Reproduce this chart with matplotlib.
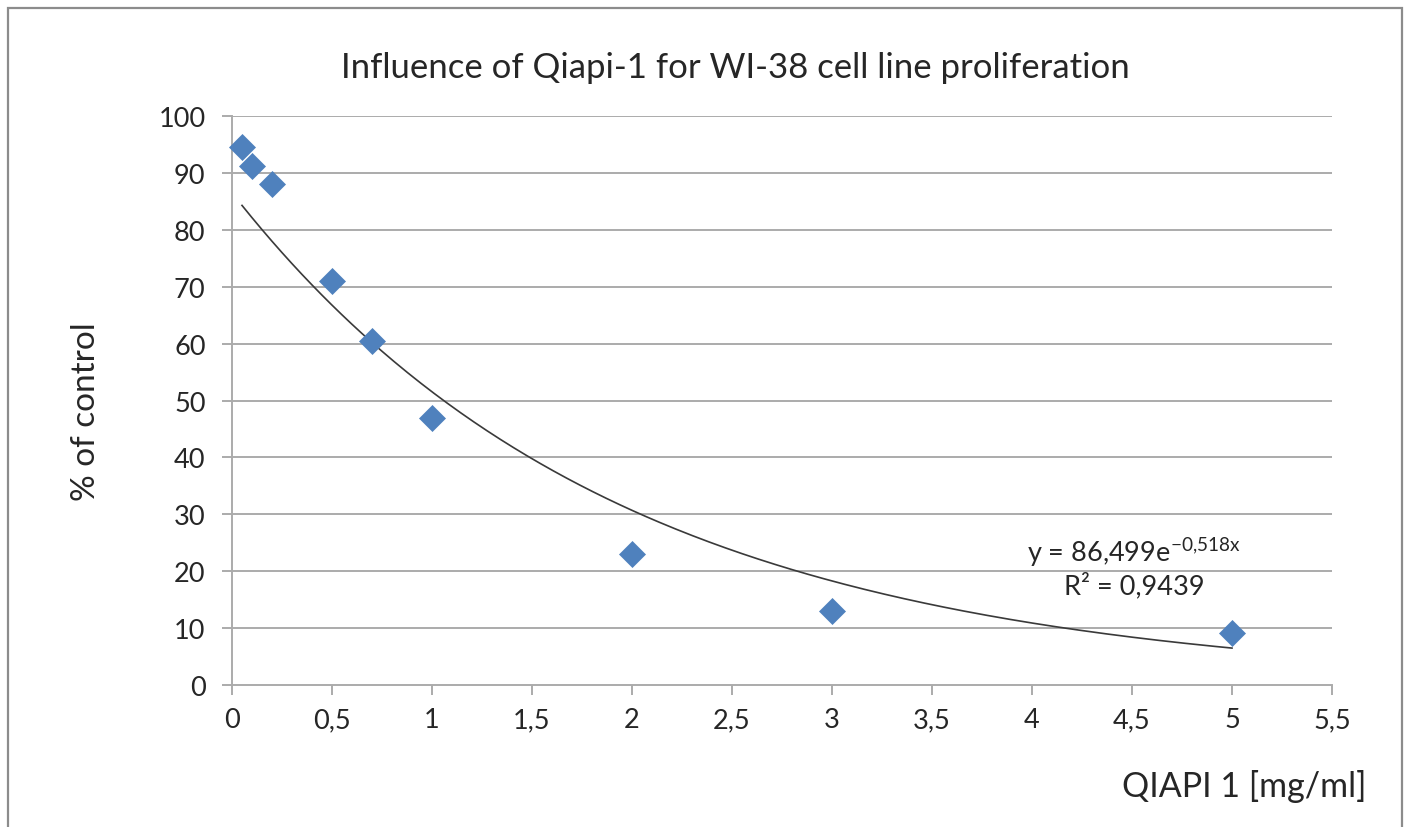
import matplotlib
matplotlib.use("Agg")
import matplotlib.pyplot as plt
import numpy as np
from matplotlib.patches import Rectangle

plt.rcParams['font.family'] = ['Lato', 'DejaVu Sans']
plt.rcParams['mathtext.fontset'] = 'custom'
plt.rcParams['mathtext.rm'] = 'Lato'

# data
conc = [0.05, 0.1, 0.2, 0.5, 0.7, 1, 2, 3, 5]
pct = [94.5, 91.2, 88.0, 71.0, 60.5, 47.0, 23.0, 13.0, 9.2]

# exponential trendline coefficients as printed on the chart
fit_a = 86.499
fit_b = -0.518
fit_label = 'y = 86,499e$^{\\mathregular{-0{,}518x}}$\nR² = 0,9439'

x_ticks = [0, 0.5, 1, 1.5, 2, 2.5, 3, 3.5, 4, 4.5, 5, 5.5]
x_ticklabels = ['0', '0,5', '1', '1,5', '2', '2,5', '3', '3,5', '4', '4,5', '5', '5,5']
y_ticks = [0, 10, 20, 30, 40, 50, 60, 70, 80, 90, 100]

grey = '#ABABAB'
blue = '#4F81BD'
txt = '#262626'

fig = plt.figure(figsize=(14.08, 8.28), dpi=100)
ax = fig.add_axes([232/1408, 1 - 686/828, 1100/1408, 569/828])

# outer chart border
fig.patches.append(Rectangle((8/1408, -0.01), 1394/1408, 1 - 9/828 + 0.01,
                             transform=fig.transFigure, fill=False,
                             edgecolor='#8C8C8C', linewidth=1.6))

ax.set_xlim(0, 5.5)
ax.set_ylim(0, 100)
ax.set_xticks(x_ticks)
ax.set_xticklabels(x_ticklabels)
ax.set_yticks(y_ticks)

for y in y_ticks[1:]:
    ax.axhline(y, color=grey, lw=1.4, zorder=0)

for s in ['top', 'right']:
    ax.spines[s].set_visible(False)
for s in ['left', 'bottom']:
    ax.spines[s].set_color(grey)
    ax.spines[s].set_linewidth(1.4)

ax.tick_params(axis='both', direction='out', length=7, width=1.4, color=grey,
               labelsize=19.5, labelcolor=txt)
ax.tick_params(axis='x', pad=9)
ax.tick_params(axis='y', pad=12)

xs = np.linspace(conc[0], conc[-1], 300)
ax.plot(xs, fit_a * np.exp(fit_b * xs), color='#3A3A3A', lw=1.2, zorder=2)
ax.plot(conc, pct, 'D', color=blue, markersize=13, markeredgecolor=blue,
        markeredgewidth=0.5, zorder=3, clip_on=False)

ax.text(4.51, 20.8, fit_label, ha='center', va='center', fontsize=19.5,
        color=txt, linespacing=1.15)

fig.text(735/1408, 1 - 68/828, 'Influence of Qiapi-1 for WI-38 cell line proliferation',
         ha='center', va='center', fontsize=25, color=txt)
fig.text(86/1408, 1 - 412/828, '% of control', rotation=90, ha='center', va='center',
         fontsize=24, color=txt)
fig.text(1367/1408, 1 - 787/828, 'QIAPI 1 [mg/ml]', ha='right', va='center',
         fontsize=24.5, color=txt)

fig.savefig('out.png', dpi=100)
